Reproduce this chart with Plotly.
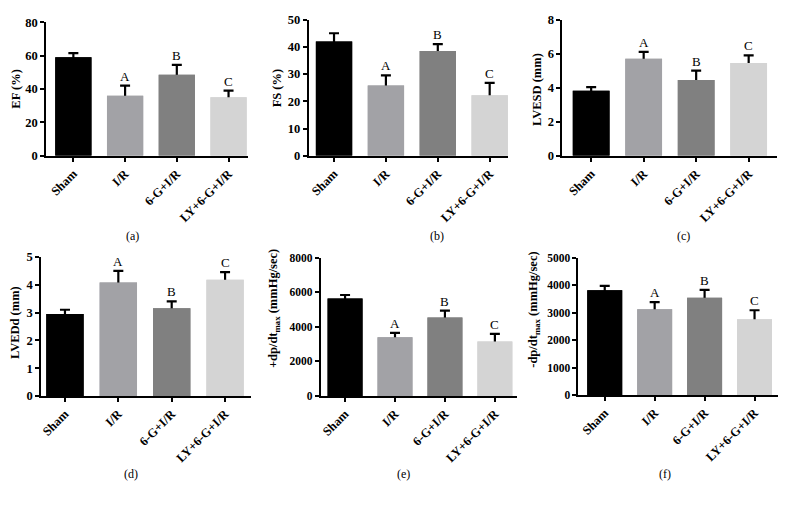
import plotly.graph_objects as go

W, H = 789, 508
categories = ["Sham", "I/R", "6-G+I/R", "LY+6-G+I/R"]
colors = ["#000000", "#a2a2a6", "#808080", "#d4d4d4"]
letters = ["", "A", "B", "C"]

ef_vals = [59, 36, 48.5, 35]
ef_errs = [2.5, 6, 6, 4]
fs_vals = [42, 25.8, 38.5, 22.2]
fs_errs = [3, 3.7, 2.5, 4.6]
lvesd_vals = [3.82, 5.7, 4.45, 5.45]
lvesd_errs = [0.22, 0.4, 0.55, 0.45]
lvedd_vals = [2.95, 4.08, 3.15, 4.18]
lvedd_errs = [0.15, 0.42, 0.25, 0.27]
pdp_vals = [5650, 3400, 4550, 3150]
pdp_errs = [200, 250, 400, 450]
ndp_vals = [3820, 3130, 3550, 2760]
ndp_errs = [160, 260, 280, 330]

# values, errs, ymax, dtick, title, caption, axis_x, axis_end, y_top, y_bottom, xrange, title_x, title_yc, cap_x, cap_y, tick size
panels = [
    (ef_vals, ef_errs, 80, 20, "EF (%)", "(a)", 45, 247, 15.7, 153, (-0.53, 3.37), 15, 84, 132, 235, 12.5),
    (fs_vals, fs_errs, 50, 10, "FS (%)", "(b)", 308, 508, 13, 153, (-0.49, 3.36), 276, 83, 437, 235, 12.5),
    (lvesd_vals, lvesd_errs, 8, 2, "LVESD (mm)", "(c)", 562, 777, 13, 153, (-0.55, 3.54), 536, 85, 683, 235, 12.5),
    (lvedd_vals, lvedd_errs, 5, 1, "LVEDd (mm)", "(d)", 40, 250, 257, 400, (-0.45, 3.48), 14, 324, 130, 480, 12.5),
    (pdp_vals, pdp_errs, 8000, 2000, "+dp/dt<sub>max</sub> (mmHg/sec)", "(e)", 320, 517, 258, 400, (-0.49, 3.45), 274, 310, 403, 480, 11.5),
    (ndp_vals, ndp_errs, 5000, 1000, "-dp/dt<sub>max</sub> (mmHg/sec)", "(f)", 578, 778, 258, 399, (-0.53, 3.47), 534, 311, 665, 480, 11.5),
]

FONT = "Liberation Serif"
fig = go.Figure()
annotations = []
layout = {}
for i, (vals, errs, ymax, dt, title, cap, ax0, ax1, yt, yb, xr, titx, tity, capx, capy, tsz) in enumerate(panels):
    n = "" if i == 0 else str(i + 1)
    xa, ya = "x" + n, "y" + n
    # error bars (symmetric); the lower half is hidden by the opaque bars drawn on top
    fig.add_trace(go.Bar(
        x=categories, y=vals, marker=dict(color=colors, line=dict(width=0)),
        width=0.7, xaxis=xa, yaxis=ya, showlegend=False, hoverinfo="skip",
        error_y=dict(type="data", array=errs, thickness=2.2, width=5, color="black"),
    ))
    fig.add_trace(go.Bar(
        x=categories, y=vals, marker=dict(color=colors, line=dict(width=0)),
        width=0.7, xaxis=xa, yaxis=ya, showlegend=False,
    ))
    layout["xaxis" + n] = dict(
        domain=[ax0 / W, ax1 / W], anchor=ya, range=list(xr), type="category",
        showline=True, linecolor="black", linewidth=1.6, ticks="outside", ticklen=4,
        tickwidth=1.5, tickcolor="black", tickangle=-45, showgrid=False, zeroline=False,
        tickfont=dict(family=FONT, size=12.5, color="black", weight="bold"),
        ticktext=["<b>%s</b>" % c for c in categories], tickvals=categories,
    )
    layout["yaxis" + n] = dict(
        domain=[1 - yb / H, 1 - yt / H], anchor=xa, range=[0, ymax], dtick=dt, tick0=0,
        showline=True, linecolor="black", linewidth=1.6, ticks="outside", ticklen=4,
        tickwidth=1.5, tickcolor="black", showgrid=False, zeroline=False,
        tickfont=dict(family=FONT, size=tsz, color="black", weight="bold"),
        tickprefix="<b>", ticksuffix="</b>",
    )
    for j, L in enumerate(letters):
        if L:
            annotations.append(dict(
                x=categories[j], y=vals[j] + errs[j], xref=xa, yref=ya, text=L,
                showarrow=False, yanchor="bottom", yshift=0,
                font=dict(family=FONT, size=13, color="black"),
            ))
    annotations.append(dict(
        x=titx / W, y=1 - tity / H, xref="paper", yref="paper", text="<b>%s</b>" % title,
        textangle=-90, showarrow=False, xanchor="center", yanchor="middle",
        font=dict(family=FONT, size=12.5, color="black"),
    ))
    annotations.append(dict(
        x=capx / W, y=1 - capy / H, xref="paper", yref="paper", text=cap,
        showarrow=False, xanchor="center", yanchor="middle",
        font=dict(family=FONT, size=12, color="black"),
    ))

fig.update_layout(
    width=W, height=H, margin=dict(l=0, r=0, t=0, b=0),
    paper_bgcolor="white", plot_bgcolor="white", barmode="overlay",
    annotations=annotations, **layout,
)
fig.write_html("out.html", config={"displayModeBar": False},
               post_script="document.body.style.margin='0';")
